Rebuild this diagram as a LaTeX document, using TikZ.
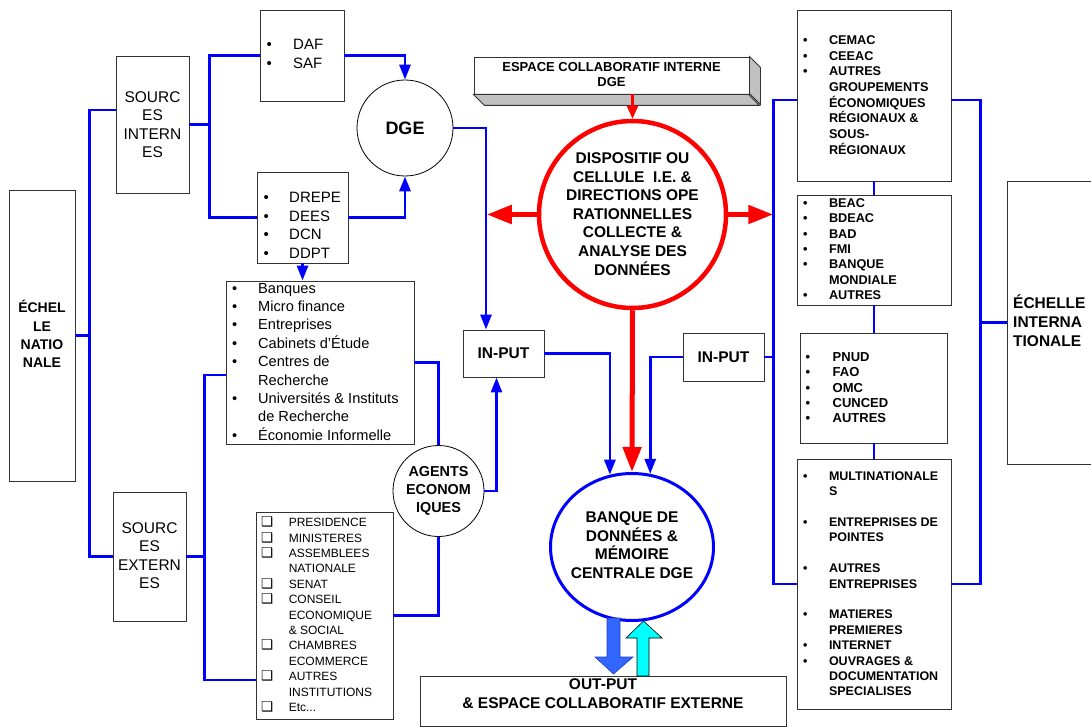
\documentclass[tikz,border=0pt]{standalone}
\usepackage{fontspec}
\setmainfont{Liberation Sans}
\newfontfamily\djv{DejaVu Sans}
\usetikzlibrary{arrows.meta,shapes.geometric}
\definecolor{bblue}{RGB}{0,0,255}
\definecolor{rred}{RGB}{255,0,0}
\definecolor{silv}{RGB}{192,192,192}
\definecolor{fatblue}{RGB}{51,102,255}
\definecolor{fatedge}{RGB}{30,60,200}
\definecolor{aqua}{RGB}{0,255,255}
\newcommand{\bu}{\textbullet}
\newcommand{\cb}{{\djv\fontsize{13.5}{13.5}\selectfont ❑}}
\begin{document}
\begin{tikzpicture}[x=1pt,y=-1pt,
 box/.style={draw=black!80, line width=0.9pt, inner sep=0pt, fill=white},
 bl/.style={draw=bblue, line width=2.8pt},
 bla/.style={bl, -{Triangle[length=15pt,width=11pt]}},
 rbig/.style={draw=rred, line width=5pt, -{Triangle[length=25pt,width=18pt]}},
 rthin/.style={draw=rred, line width=2.5pt, -{Triangle[length=13pt,width=11pt]}},
 lst/.style={anchor=west, inner sep=0pt},
 bt/.style={font=\fontsize{15.5}{18.6}\selectfont\bfseries, align=center, inner sep=0pt},
 rt/.style={font=\fontsize{15.5}{18.5}\selectfont, align=center, inner sep=0pt},
]
\useasboundingbox (0,0) rectangle (1091,727);
\clip (0,0) rectangle (1091,727);

% ---------- boxes ----------
\node[box, minimum width=66pt, minimum height=291pt] (echnat) at (42,335.5) {};
\node[bt, font=\fontsize{14}{18.3}\selectfont\bfseries] (echnattxt) at (42,334) {ÉCHEL\\LE\\NATIO\\NALE};

\node[box, minimum width=73pt, minimum height=137pt] (srcint) at (152.5,124.5) {};
\node[rt] (srcinttxt) at (srcint.center) {SOURC\\ES\\INTERN\\ES};

\node[box, minimum width=73pt, minimum height=129pt] (srcext) at (149.5,556.5) {};
\node[rt] (srcexttxt) at (149.5,555.5) {SOURC\\ES\\EXTERN\\ES};

\node[box, minimum width=84pt, minimum height=91pt] (daf) at (302,55.5) {};
\node[lst, font=\fontsize{15}{19}\selectfont] (daftxt) at (266.5,55.5)
 {\begin{tabular}{@{}p{26.5pt}@{}l@{}}\bu&DAF\\\bu&SAF\end{tabular}};

\node[box, minimum width=91pt, minimum height=91pt] (drepe) at (302.5,217.5) {};
\node[lst, font=\fontsize{15}{18.5}\selectfont] (drepetxt) at (263.5,227)
 {\begin{tabular}{@{}p{25.5pt}@{}l@{}}\bu&DREPE\\\bu&DEES\\\bu&DCN\\\bu&DDPT\end{tabular}};

\node[box, minimum width=188pt, minimum height=163pt] (banques) at (320,362.5) {};
\node[lst, font=\fontsize{14.6}{18.4}\selectfont] (banquestxt) at (232,363)
 {\begin{tabular}{@{}p{26pt}@{}l@{}}\bu&Banques\\\bu&Micro finance\\\bu&Entreprises\\\bu&Cabinets d'Étude\\\bu&Centres de\\&Recherche\\\bu&Universités \& Instituts\\&de Recherche\\\bu&Économie Informelle\end{tabular}};

\node[box, minimum width=137pt, minimum height=207pt] (pres) at (324.5,615.5) {};
\node[lst, font=\fontsize{12}{15.4}\selectfont] (prestxt) at (261,616)
 {\begin{tabular}{@{}p{27.6pt}@{}l@{}}\cb&PRESIDENCE\\\cb&MINISTERES\\\cb&ASSEMBLEES\\&NATIONALE\\\cb&SENAT\\\cb&CONSEIL\\&ECONOMIQUE\\&\& SOCIAL\\\cb&CHAMBRES\\&ECOMMERCE\\\cb&AUTRES\\&INSTITUTIONS\\\cb&Etc...\end{tabular}};

\node[box, minimum width=81pt, minimum height=47pt] (input1) at (503.5,353.5) {};
\node[bt] (input1txt) at (input1.center) {IN-PUT};
\node[box, minimum width=81pt, minimum height=48pt] (input2) at (723.5,357) {};
\node[bt] (input2txt) at (input2.center) {IN-PUT};

\node[box, minimum width=154pt, minimum height=171pt] (cemac) at (874,95.5) {};
\node[lst, font=\fontsize{12.7}{15.4}\selectfont\bfseries] (cemactxt) at (802.8,96.5)
 {\begin{tabular}{@{}p{26pt}@{}l@{}}\bu&CEMAC\\\bu&CEEAC\\\bu&AUTRES\\&GROUPEMENTS\\&ÉCONOMIQUES\\&RÉGIONAUX \&\\&SOUS-\\&RÉGIONAUX\end{tabular}};

\node[box, minimum width=154pt, minimum height=110pt] (beac) at (874,250) {};
\node[lst, font=\fontsize{12.7}{15.3}\selectfont\bfseries] (beactxt) at (802.8,250.5)
 {\begin{tabular}{@{}p{26pt}@{}l@{}}\bu&BEAC\\\bu&BDEAC\\\bu&BAD\\\bu&FMI\\\bu&BANQUE\\&MONDIALE\\\bu&AUTRES\end{tabular}};

\node[box, minimum width=147pt, minimum height=110pt] (pnud) at (873.5,388) {};
\node[lst, font=\fontsize{13}{15.3}\selectfont\bfseries] (pnudtxt) at (805.5,389)
 {\begin{tabular}{@{}p{27pt}@{}l@{}}\bu&PNUD\\\bu&FAO\\\bu&OMC\\\bu&CUNCED\\\bu&AUTRES\end{tabular}};

\node[box, minimum width=154pt, minimum height=250pt] (multi) at (874,584) {};
\node[lst, font=\fontsize{12.5}{15.4}\selectfont\bfseries] (multitxt) at (802.8,585)
 {\begin{tabular}{@{}p{26pt}@{}l@{}}\bu&MULTINATIONALE\\&S\\&\\\bu&ENTREPRISES DE\\&POINTES\\&\\\bu&AUTRES\\&ENTREPRISES\\&\\\bu&MATIERES\\&PREMIERES\\\bu&INTERNET\\\bu&OUVRAGES \&\\&DOCUMENTATION\\&SPECIALISES\end{tabular}};

\node[box, minimum width=93pt, minimum height=283pt] (echint) at (1053.5,322.5) {};
\node[bt, align=left, anchor=west, font=\fontsize{15.5}{18.8}\selectfont\bfseries] (echinttxt) at (1013,321) {ÉCHELLE\\INTERNA\\TIONALE};

\node[box, minimum width=366pt, minimum height=50pt] (output) at (603,701) {};
\node[bt, font=\fontsize{15.5}{19}\selectfont\bfseries] (outputtxt) at (603,694) {OUT-PUT\\\& ESPACE COLLABORATIF EXTERNE};

% ---------- 3D box ----------
\node[box, minimum width=275pt, minimum height=37pt] (espace) at (611.5,75.5) {};
\fill[silv, draw=black!80, line width=0.9pt] (espace.north east) -- ++(11,11) -- ++(0,37) -- ++(-11,-11) -- cycle;
\fill[silv, draw=black!80, line width=0.9pt] (espace.south west) -- ++(11,11) -- ++(275,0) -- ++(-11,-11) -- cycle;
\node[bt, font=\fontsize{13}{15}\selectfont\bfseries] (espacetxt) at (611.5,75) {ESPACE COLLABORATIF INTERNE\\DGE};

% ---------- circles ----------
\node[circle, draw=black, line width=0.8pt, minimum size=96pt, inner sep=0pt, font=\fontsize{18}{20}\selectfont\bfseries] (dge) at (405,128) {DGE};
\node[circle, draw=black, line width=0.8pt, minimum size=91pt, inner sep=0pt, fill=white] (agents) at (438.5,491) {};
\node[bt, font=\fontsize{14.4}{18.3}\selectfont\bfseries] (agentstxt) at (agents.center) {AGENTS\\ECONOM\\IQUES};
\node[circle, draw=rred, line width=4.5pt, minimum size=187pt, inner sep=0pt] (disp) at (632.5,214.5) {};
\node[bt] (disptxt) at (632.5,214) {DISPOSITIF OU\\CELLULE~~I.E. \&\\DIRECTIONS OPE\\RATIONNELLES\\COLLECTE \&\\ANALYSE DES\\DONNÉES};
\node[ellipse, draw=bblue, line width=3pt, minimum width=163pt, minimum height=147pt, inner sep=0pt] (bank) at (632,547) {};
\node[bt, font=\fontsize{15.5}{18.5}\selectfont\bfseries] (banktxt) at (632,545) {BANQUE DE\\DONNÉES \&\\MÉMOIRE\\CENTRALE DGE};

% ---------- blue connectors ----------
\draw[bl] ([yshift=14.5pt]srcint.west) -- ++(-26,0) coordinate (b1) -- (b1 |- srcext.west) -- (srcext.west);
\draw[bl] (echnat.east) -- (b1 |- echnat.east);
\draw[bl] (daf.west) -- ++(-50,0) coordinate (b2) -- (b2 |- drepe.west) -- (drepe.west);
\draw[bl] (srcint.east) -- (b2 |- srcint.east);
\draw[bla] (daf.east) -| (dge.north);
\draw[bla] (drepe.east) -| (dge.south);
\draw[bla] (dge.east) -| ([xshift=-17.5pt]input1.north);
\draw[bla] (drepe.south) -- (drepe.south |- banques.north);
\draw[bl] ([yshift=-12.5pt]banques.west) -- ++(-21,0) coordinate (b3) |- ([yshift=-64.5pt]pres.west);
\draw[bl] (srcext.east) -- (b3 |- srcext.east);
\draw[bl] (banques.east) -| (agents.north);
\draw[bl] (agents.south) |- (pres.east);
\draw[bla] (agents.east) -| ([xshift=-7pt]input1.south);
\draw[bla] (input1.east) -| (bank.107.7);
\draw[bla] (input2.west) -| (bank.76.2);
\draw[bl] ([yshift=-4.5pt]cemac.west) -- ++(-23,0) coordinate (b4) -- (b4 |- multi.west) -- (multi.west);
\draw[bl] (input2.east) -- (b4 |- input2.east);
\draw[bl] ([yshift=-4.5pt]cemac.east) -- ++(29,0) coordinate (b5) -- (b5 |- multi.east) -- (multi.east);
\draw[bl] (b5 |- echint.west) -- (echint.west);
\draw[bl] (cemac.south) -- (beac.north);
\draw[bl] (beac.south) -- (beac.south |- pnud.north);
\draw[bl] (beac.south |- pnud.south) -- (multi.north);

% ---------- red connectors ----------
\draw[rthin] (disp.north |- espace.south) -- (disp.north);
\draw[rbig] (disp.west) -- ([xshift=-50pt]disp.west);
\draw[rbig] (disp.east) -- ([xshift=45pt]disp.east);
\draw[rbig] (disp.south) -- (bank.north);

% ---------- fat arrows ----------
\filldraw[fill=fatblue, draw=fatedge, line width=0.6pt] (607,618) -- (620,618) -- (620,657) -- (633,657) -- (613.5,674) -- (595,657) -- (607,657) -- cycle;
\filldraw[fill=aqua, draw=black, line width=0.6pt] (637,676) -- (649,676) -- (649,638) -- (662,638) -- (643.5,621) -- (626,638) -- (637,638) -- cycle;
\end{tikzpicture}
\end{document}
